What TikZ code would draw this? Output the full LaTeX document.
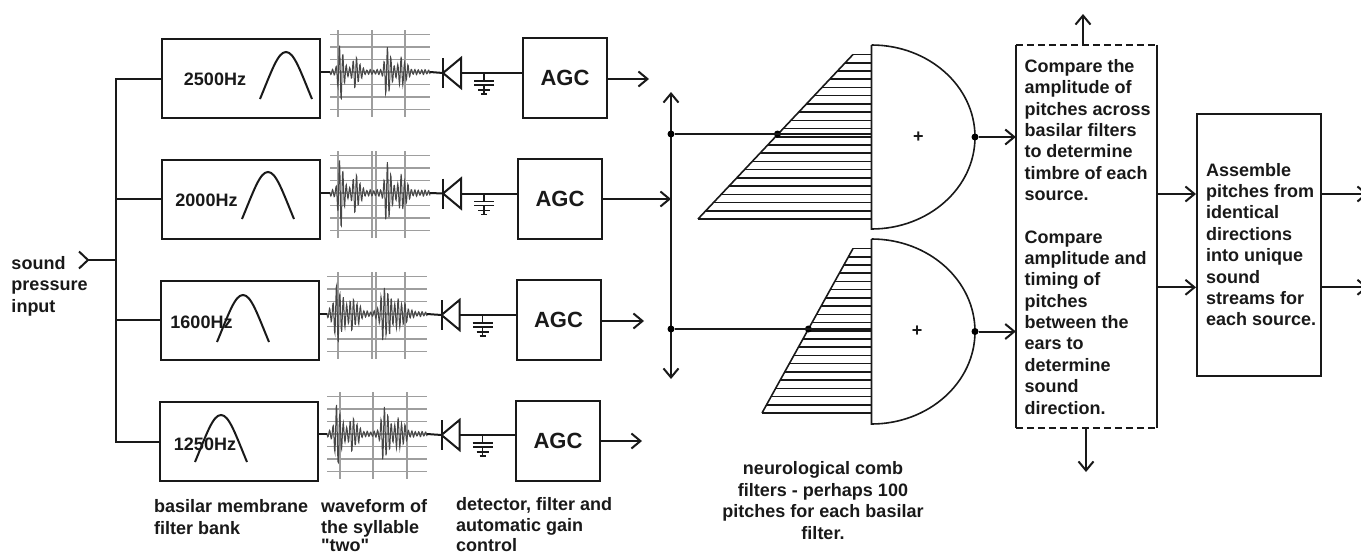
\documentclass[tikz,border=0pt]{standalone}
\usepackage{fontspec}
\setmainfont{Liberation Sans}
\newfontfamily\plainquote{Liberation Sans}
\usepackage{xcolor}
\usetikzlibrary{positioning,arrows.meta,calc}
\definecolor{inkline}{gray}{0.1}
\definecolor{gridline}{gray}{0.62}
\definecolor{waveline}{gray}{0.28}
\newcommand{\labelfont}{\fontsize{18}{21.35}\selectfont\bfseries}

\begin{document}
\begin{tikzpicture}[
    x=1pt,y=-1pt,
    >={Straight Barb[length=9pt,width=15pt]},
    declare function={bump(\t,\c,\w)=exp(-(\t-\c)*(\t-\c)/(\w*\w));},
    line/.style={draw=inkline,line width=2pt},
    arrow/.style={line,->},
    thinline/.style={draw=inkline,line width=1.6pt},
    filterbox/.style={rectangle,line,minimum width=158pt,minimum height=79pt,inner sep=0pt},
    agcbox/.style={rectangle,line,minimum width=84pt,minimum height=80pt,inner sep=0pt,
                   font=\fontsize{22}{24}\selectfont\bfseries,text=inkline},
    hzlabel/.style={inner sep=0pt,font=\fontsize{18}{20}\selectfont\bfseries,text=inkline},
    note/.style={inner sep=0pt,anchor=base west,align=left,font=\labelfont,text=inkline},
    junction/.style={circle,fill=black,inner sep=0pt,minimum size=7pt}
]
\path[use as bounding box,clip] (0,0) rectangle (1361,552);

\foreach \row/\fx/\fy/\hx/\hy/\bx/\by/\wx/\wy/\dx/\dy/\ax/\ay/\amp/\grid/\bw in {
    1/241/78.5/215/79/286/52/330/72/443/73/565/78/29/{8,42,75}/1,
    2/241/199/206.5/200/268/172/330/193/443/193.5/560/199/36/{8,42,46,75}/1,
    3/239.5/320/201.5/322/243/295/327/314/441.5/315/558.5/320/29/{11,45,49,78}/1.5,
    4/239/441/205/444/221/415/327/434/441.5/435/558/440.5/31/{13,46,80}/1.2}{
  \node[filterbox] (filt\row) at (\fx,\fy) {};
  \node[hzlabel] (hz\row) at (\hx,\hy) {\ifcase\row\or 2500\or 2000\or 1600\or 1250\fi Hz};
  \draw[line] (\bx-26,\by+47) .. controls (\bx-14,\by+18) and (\bx-8,\by) .. (\bx,\by)
              .. controls (\bx+8,\by) and (\bx+14,\by+18) .. (\bx+26,\by+47);
  \foreach \k in {-3,...,3}
    \draw[gridline,line width=1.6pt] (\wx,\wy+12.5*\k) -- ++(100,0);
  \foreach \v in \grid
    \draw[gridline,line width=1.1pt] (\wx+\v,\wy-42) -- ++(0,87);
  \draw[waveline,line width=1pt] plot[domain=0:100,samples=240]
    ({\wx+\x},{\wy+\amp*(bump(\x,11,3.8*\bw)+0.5*bump(\x,26,5*\bw)+0.95*bump(\x,58,3.8*\bw)
      +0.45*bump(\x,72,6*\bw)+0.09)*sin(\x*105)*(0.85+0.15*sin(\x*47))});
  \coordinate (wavein\row) at (\wx,\wy);
  \coordinate (waveout\row) at (\wx+100,\wy);
  \coordinate (diode\row) at (\dx,\dy);
  \coordinate (diodeback\row) at (\dx+18,\dy);
  \coordinate (gnd\row) at (\dx+41,\dy);
  \node[agcbox] (agc\row) at (\ax,\ay) {AGC};
  \draw[line] (filt\row.east |- wavein\row) -- (wavein\row);
  \draw[line] (waveout\row) -- (diode\row);
  \draw[line,line join=miter] (diode\row) -- ($(diodeback\row)+(0,-15)$) -- ($(diodeback\row)+(0,15)$) -- cycle;
  \draw[line] ($(diode\row)+(0,-15)$) -- ($(diode\row)+(0,15)$);
  \draw[line] (diodeback\row) -- (diodeback\row -| agc\row.west);
  \draw[thinline] (gnd\row) -- ++(0,8) ++(-10,0) -- ++(20,0) ++(0,4) -- ++(-20,0)
                  ++(10,0) -- ++(0,9) ++(-6,-4) -- ++(12,0) ++(-9,4) -- ++(6,0);
}

\coordinate (bustop) at (116,79);
\coordinate (busbot) at (116,442);
\coordinate (soundin) at (78,260);
\draw[line] (filt1.west |- bustop) -- (bustop) -- (busbot) -- (filt4.west |- busbot);
\draw[line] (bustop |- filt2.west) -- (filt2.west);
\draw[line] (bustop |- filt3.west) -- (filt3.west);
\draw[line,{Straight Barb[reversed,length=9pt,width=17pt]}-] (soundin) -- (soundin -| bustop);

\coordinate (agcout1) at (649,79);
\coordinate (agcout3) at (644,321);
\coordinate (agcout4) at (642,441);
\coordinate (pitchtop) at (671,92);
\coordinate (pitchbot) at (671,379);
\draw[arrow] (agc1.east |- agcout1) -- (agcout1);
\draw[arrow] (agc3.east |- agcout3) -- (agcout3);
\draw[arrow] (agc4.east |- agcout4) -- (agcout4);
\draw[arrow] (agc2.east) -- (agc2.east -| pitchtop);
\draw[line,<->] (pitchbot) -- (pitchtop);

\foreach \row/\top/\low/\tipx/\lowx/\ymid/\tapy/\tapx/\plusx in {
    1/45/229/853/698/137/134/777.5/918.4,
    2/239/424/853/762/331.5/329/808.4/917}{
  \coordinate (combflat\row) at (871.5,\ymid);
  \draw[thinline] (871.5,\top) -- (871.5,\low) arc[start angle=90,end angle=-90,x radius=103.5,y radius={(\low-\top)/2}];
  \draw[thinline] (\tipx,\top+9.5) -- (\lowx,\top+174);
  \foreach \k in {0,...,20}
    \draw[thinline] ({\tipx+(\lowx-\tipx)*\k/20},{\top+9.5+164.5*\k/20}) -- (871.5,{\top+9.5+164.5*\k/20});
  \node[junction] (branch\row) at (pitchtop |- 0,\tapy) {};
  \node[junction] (tap\row) at (\tapx,\tapy) {};
  \draw[line] (branch\row) -- (branch\row -| combflat\row);
  \node[junction] (combout\row) at (975,\ymid) {};
  \node[inner sep=0pt,font=\labelfont,text=inkline] (plus\row) at (\plusx,\ymid) {+};
}

\node[minimum width=140.6pt,minimum height=382.7pt,inner sep=0pt] (comparebox) at (1086.3,236.3) {};
\draw[line] (comparebox.north west) -- (comparebox.south west);
\draw[line] (comparebox.north east) -- (comparebox.south east);
\draw[line,dash pattern=on 7pt off 4pt] (comparebox.north west) -- (comparebox.north east);
\draw[line,dash pattern=on 7pt off 4pt] (comparebox.south west) -- (comparebox.south east);
\node[rectangle,line,minimum width=124pt,minimum height=262pt,inner sep=0pt] (assemblebox) at (1259,245) {};

\coordinate (upout) at (1083,14);
\coordinate (downout) at (1086,472);
\coordinate (rightout1) at (1368,194);
\coordinate (rightout2) at (1368,287.3);
\draw[arrow] (upout |- comparebox.north) -- (upout);
\draw[arrow] (downout |- comparebox.south) -- (downout);
\draw[arrow] (combout1) -- (combout1 -| comparebox.west);
\draw[arrow] (combout2) -- (combout2 -| comparebox.west);
\draw[arrow] (comparebox.east |- rightout1) -- (assemblebox.west |- rightout1);
\draw[arrow] (comparebox.east |- rightout2) -- (assemblebox.west |- rightout2);
\draw[arrow] (assemblebox.east |- rightout1) -- (rightout1);
\draw[arrow] (assemblebox.east |- rightout2) -- (rightout2);

\node[note] (soundtext) at (11.3,312) {sound\\pressure\\input};
\node[note] (filtertext) at (154,534) {basilar membrane\\filter bank};
\node[note] (wavetext) at (321,551) {waveform of\\the syllable\\[-3.7pt]{\plainquote\bfseries"two"}};
\node[note] (agctext) at (456,551) {detector, filter and\\automatic gain\\[-2pt]control};
\node[note,align=center,anchor=base] (combtext) at (823,539) {neurological comb\\filters - perhaps 100\\pitches for each basilar\\filter.};
\node[note] (comparetext) at (1024.3,414) {Compare the\\amplitude of\\pitches across\\basilar filters\\to determine\\timbre of each\\source.\\[21.35pt]Compare\\amplitude and\\timing of\\pitches\\between the\\ears to\\determine\\sound\\direction.};
\node[note] (assembletext) at (1206,325.7) {Assemble\\pitches from\\identical\\directions\\into unique\\sound\\streams for\\each source.};
\end{tikzpicture}
\end{document}
